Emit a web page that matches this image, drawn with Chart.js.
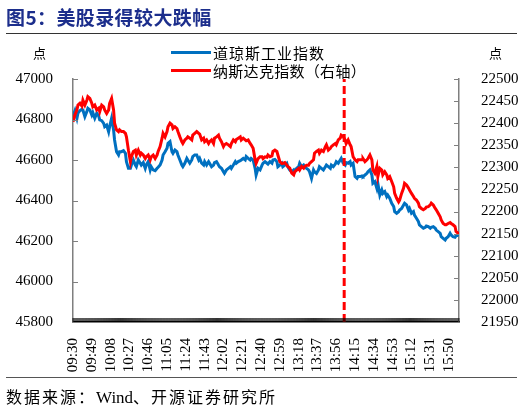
<!DOCTYPE html>
<html>
<head>
<meta charset="utf-8">
<script src="https://cdn.jsdelivr.net/npm/chart.js@4/dist/chart.umd.min.js"></script>
<style>
  html, body { margin: 0; padding: 0; background: #fff; }
  #wrap { position: relative; width: 522px; height: 407px; overflow: hidden; }
  #c { position: absolute; left: 0; top: 0; }
  .t { position: absolute; white-space: nowrap; font-family: "Noto Sans CJK SC", sans-serif; color: #000; }
  .rule { position: absolute; left: 6px; width: 511px; height: 1px; }
  .sw { position: absolute; width: 40px; height: 3px; }
</style>
</head>
<body>
<div id="wrap">
  <canvas id="c" width="522" height="407"></canvas>
  <div class="t" style="left:6px;top:3px;font-size:19px;font-weight:700;letter-spacing:0.4px;color:#1C2E8C;">图5：美股录得较大跌幅</div>
  <div class="rule" style="top:33px;background:#333;"></div>
  <div class="t" style="left:33px;top:43px;font-size:13px;">点</div>
  <div class="t" style="left:489px;top:43px;font-size:13px;">点</div>
  <div class="sw" style="left:171px;top:51px;background:#0070C0;"></div>
  <div class="t" style="left:213px;top:42px;font-size:15px;letter-spacing:1px;">道琼斯工业指数</div>
  <div class="sw" style="left:171px;top:69px;background:#FF0000;"></div>
  <div class="t" style="left:213px;top:60px;font-size:15px;letter-spacing:0.3px;">纳斯达克指数（右轴）</div>
  <div class="rule" style="top:377px;background:#555;"></div>
  <div class="t" style="left:6px;top:384px;font-size:16px;letter-spacing:2px;">数据来源：<span style="font-family:'Liberation Serif',serif;font-size:17px;letter-spacing:0;">Wind</span>、开源证券研究所</div>
</div>
<script>
// minutes after 09:30
const times = [0,2,4,5,7,9,10,12,14,15,17,19,20,22,24,26,27,29,31,32,34,36,37,39,41,42,44,46,47,49,51,53,54,56,58,59,61,63,64,66,68,69,71,73,74,76,78,79,81,83,85,86,88,90,91,93,95,96,98,
  100,101,103,105,106,108,110,111,113,115,116,118,120,121,123,125,127,128,130,132,133,135,137,138,140,142,143,145,147,148,150,152,153,155,157,159,160,162,164,165,167,169,170,172,174,175,177,179,180,182,184,185,187,189,191,192,194,
  196,197,199,201,202,204,206,207,209,211,212,214,216,217,219,221,223,224,226,228,229,231,233,234,236,238,239,241,243,244,246,248,249,251,253,255,256,258,260,261,263,265,266,268,270,271,273,275,276,278,280,281,283,285,287,288,290,
  292,293,295,297,298,300,302,303,305,307,308,310,312,313,315,317,318,320,322,324,325,327,329,330,332,334,335,337,339,340,342,344,345,347,349,350,352,354,356,357,359,361,362,364,366,367,369,371,372,374,376,377,379,381,382,384,386,387,389,390];

const djia = [46817,46844,46806,46831,46844,46850,46847,46814,46839,46855,46847,46822,46834,46806,46831,46817,46798,46794,46781,46765,46773,46740,46765,46806,46748,46699,46641,46625,46641,46641,46646,46633,46592,46559,46559,46575,46600,46575,46567,46600,46584,46575,46587,46559,46575,46592,46551,46567,46551,46547,46559,46564,46575,46600,46625,46641,46658,46682,46691,
  46641,46633,46649,46641,46625,46600,46575,46567,46584,46608,46600,46584,46600,46617,46625,46625,46600,46608,46584,46575,46592,46575,46592,46584,46567,46575,46587,46592,46575,46567,46559,46542,46534,46551,46559,46567,46559,46575,46592,46584,46592,46597,46600,46608,46600,46617,46608,46600,46608,46600,46559,46526,46559,46551,46575,46584,46592,
  46584,46580,46592,46584,46600,46603,46592,46567,46575,46584,46567,46575,46584,46567,46551,46542,46551,46542,46559,46567,46584,46567,46575,46567,46559,46551,46542,46509,46551,46542,46534,46551,46567,46559,46551,46567,46575,46567,46559,46575,46567,46580,46592,46584,46600,46608,46584,46575,46587,46584,46592,46575,46584,46518,46509,46518,46518,
  46521,46518,46526,46534,46542,46551,46526,46485,46493,46460,46485,46427,46452,46435,46444,46419,46427,46411,46386,46370,46345,46337,46345,46353,46361,46378,46386,46378,46353,46361,46337,46345,46328,46312,46296,46279,46271,46263,46268,46274,46271,46263,46268,46271,46263,46254,46246,46238,46221,46213,46205,46213,46221,46238,46230,46221,46218,46225,46230,46225];

const nasdaq = [22403,22419,22430,22441,22445,22439,22452,22441,22452,22460,22456,22445,22437,22441,22430,22434,22426,22441,22437,22430,22422,22430,22445,22456,22430,22400,22385,22381,22385,22381,22381,22377,22369,22339,22313,22324,22336,22339,22328,22339,22328,22332,22328,22320,22324,22328,22317,22324,22328,22320,22328,22336,22347,22366,22377,22369,22381,22392,22400,
  22396,22388,22392,22388,22381,22369,22358,22354,22362,22366,22369,22366,22362,22373,22377,22381,22377,22375,22362,22366,22358,22362,22354,22358,22362,22354,22366,22369,22373,22366,22358,22347,22351,22354,22351,22347,22354,22362,22358,22363,22366,22369,22362,22366,22362,22360,22362,22354,22351,22343,22317,22309,22320,22324,22324,22320,22324,
  22323,22328,22324,22326,22336,22339,22336,22328,22313,22309,22309,22311,22305,22302,22298,22287,22283,22290,22294,22298,22294,22302,22298,22302,22305,22305,22309,22313,22317,22332,22336,22339,22332,22339,22336,22347,22351,22339,22343,22347,22351,22354,22351,22362,22366,22373,22370,22362,22354,22362,22351,22347,22324,22317,22313,22317,22317,
  22317,22320,22313,22317,22320,22328,22317,22294,22287,22302,22279,22298,22294,22283,22290,22283,22275,22279,22268,22256,22241,22230,22222,22226,22241,22253,22264,22260,22253,22249,22241,22234,22230,22226,22219,22211,22207,22204,22207,22210,22211,22215,22219,22215,22207,22204,22196,22188,22181,22173,22170,22170,22173,22175,22173,22170,22166,22155,22151,22149];

const xTickLabels = ['09:30','09:49','10:08','10:27','10:46','11:05','11:24','11:43','12:02','12:21','12:40','12:59','13:18','13:37','13:56','14:15','14:34','14:53','15:12','15:31','15:50'];
const eventTime = '14:04';
const leftRange = [45800, 47000, 200];
const rightRange = [21950, 22500, 50];

function toMin(s) { const p = s.split(':'); return (+p[0]) * 60 + (+p[1]) - 570; }
function toLabel(v) { const t = v + 570; const h = Math.floor(t / 60), m = t % 60; return String(h).padStart(2,'0') + ':' + String(m).padStart(2,'0'); }

const blueData = times.map((t, i) => ({ x: t, y: djia[i] }));
const redData = times.map((t, i) => ({ x: t, y: nasdaq[i] }));
const evX = toMin(eventTime);
const eventData = [{ x: evX, y: leftRange[0] }, { x: evX, y: leftRange[1] }];

const tickFont = { family: "'Liberation Serif', 'Times New Roman', serif", size: 15 };

const innerTicks = {
  id: 'innerTicks',
  afterDraw(chart) {
    const ctx = chart.ctx, a = chart.chartArea;
    const sx = chart.scales.x, sy = chart.scales.y, sy1 = chart.scales.y1;
    ctx.save();
    ctx.strokeStyle = '#7f7f7f';
    ctx.lineWidth = 1;
    sy.ticks.forEach(t => {
      const p = Math.round(sy.getPixelForValue(t.value)) + 0.5;
      ctx.beginPath(); ctx.moveTo(a.left, p); ctx.lineTo(a.left + 5, p); ctx.stroke();
    });
    sy1.ticks.forEach(t => {
      const p = Math.round(sy1.getPixelForValue(t.value)) + 0.5;
      ctx.beginPath(); ctx.moveTo(a.right - 5, p); ctx.lineTo(a.right, p); ctx.stroke();
    });
    ctx.strokeStyle = '#000';
    ctx.lineWidth = 0.8;
    for (let m = sx.min; m <= sx.max; m++) {
      const p = sx.getPixelForValue(m);
      ctx.beginPath(); ctx.moveTo(p, a.bottom - 4); ctx.lineTo(p, a.bottom); ctx.stroke();
    }
    ctx.restore();
  }
};

new Chart(document.getElementById('c'), {
  type: 'line',
  data: {
    datasets: [
      { label: 'event', data: eventData, yAxisID: 'y', borderColor: '#FF0000', borderWidth: 3, borderDash: [8, 4], pointRadius: 0, order: 0 },
      { label: '纳斯达克指数（右轴）', data: redData, yAxisID: 'y1', borderColor: '#FF0000', borderWidth: 3, pointRadius: 0, tension: 0, order: 1 },
      { label: '道琼斯工业指数', data: blueData, yAxisID: 'y', borderColor: '#0070C0', borderWidth: 3, pointRadius: 0, tension: 0, order: 2 }
    ]
  },
  options: {
    responsive: false,
    animation: false,
    devicePixelRatio: 1,
    layout: { padding: { top: 79, left: 0, right: 0, bottom: 0 } },
    plugins: { legend: { display: false }, tooltip: { enabled: false } },
    scales: {
      x: {
        type: 'linear', min: 0, max: 390, position: 'bottom',
        afterBuildTicks: s => { s.ticks = xTickLabels.map(l => ({ value: toMin(l) })); },
        afterFit: s => { s.height = 85; },
        grid: { display: false },
        border: { display: true, color: '#000', width: 1.5 },
        ticks: { autoSkip: false, minRotation: 90, maxRotation: 90, padding: 8, color: '#000', font: tickFont, callback: v => toLabel(v) }
      },
      y: {
        type: 'linear', position: 'left', min: leftRange[0], max: leftRange[1],
        afterFit: s => { s.width = 73; },
        grid: { display: false },
        border: { display: true, color: '#7f7f7f', width: 1.5 },
        ticks: { stepSize: leftRange[2], padding: 12, color: '#000', font: tickFont, callback: v => String(v) }
      },
      y1: {
        type: 'linear', position: 'right', min: rightRange[0], max: rightRange[1],
        afterFit: s => { s.width = 63; },
        grid: { display: false },
        border: { display: true, color: '#7f7f7f', width: 1.5 },
        ticks: { stepSize: rightRange[2], padding: 14, color: '#000', font: tickFont, callback: v => String(v) }
      }
    }
  },
  plugins: [innerTicks]
});
</script>
</body>
</html>
